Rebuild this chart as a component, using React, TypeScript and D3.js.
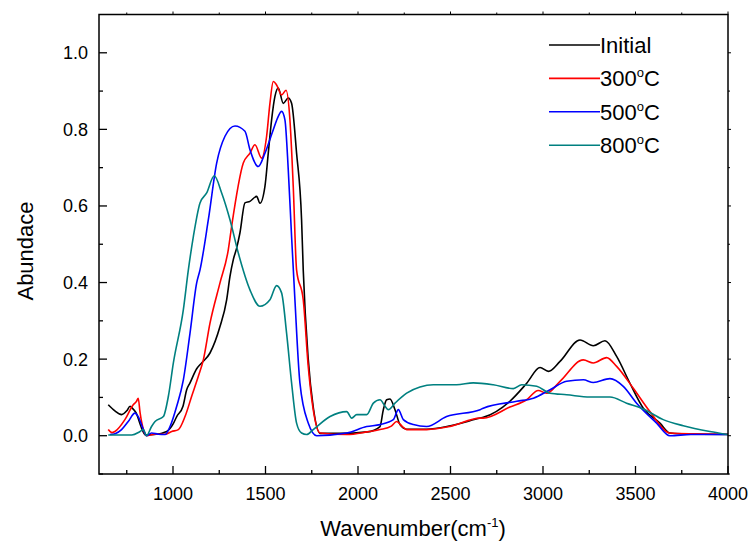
import React from "react";
import * as d3 from "d3";

const seriesNames = ["Initial", "300", "500", "800"];
const seriesColors = ["#000000", "#ff0000", "#0000ff", "#008080"];

const initialW = [650, 686, 722, 750, 768, 780, 800, 830, 850, 900, 966, 1000, 1020, 1054, 1074, 1092, 1128, 1155, 1200, 1254, 1290, 1308, 1326, 1344, 1362, 1389, 1416, 1452, 1470, 1497, 1515, 1533, 1551, 1569, 1596, 1623, 1641, 1668, 1695, 1704, 1731, 1758, 1795, 1900, 2050, 2119, 2137, 2155, 2173, 2200, 2227, 2263, 2371, 2500, 2660, 2677, 2821, 2912, 2984, 3029, 3092, 3200, 3272, 3335, 3398, 3470, 3542, 3632, 3686, 3757, 4000];
const initialV = [0.081, 0.065, 0.055, 0.065, 0.077, 0.072, 0.06, 0.02, 0.002, 0.003, 0.011, 0.03, 0.05, 0.077, 0.12, 0.138, 0.175, 0.19, 0.216, 0.285, 0.355, 0.416, 0.46, 0.49, 0.53, 0.608, 0.612, 0.625, 0.607, 0.651, 0.738, 0.825, 0.886, 0.908, 0.868, 0.882, 0.868, 0.738, 0.564, 0.433, 0.2, 0.075, 0.006, 0.006, 0.01, 0.024, 0.068, 0.094, 0.096, 0.068, 0.029, 0.017, 0.017, 0.026, 0.046, 0.048, 0.09, 0.137, 0.178, 0.168, 0.194, 0.25, 0.235, 0.248, 0.207, 0.137, 0.072, 0.033, 0.007, 0.005, 0.003];

const t300W = [650, 670, 686, 740, 785, 803, 812, 822, 840, 857, 900, 957, 993, 1029, 1065, 1101, 1137, 1164, 1200, 1254, 1299, 1317, 1380, 1416, 1443, 1479, 1506, 1524, 1542, 1560, 1587, 1611, 1632, 1650, 1668, 1704, 1731, 1758, 1795, 1939, 2050, 2119, 2180, 2209, 2240, 2263, 2371, 2497, 2660, 2677, 2821, 2912, 2974, 3020, 3092, 3218, 3272, 3344, 3398, 3488, 3578, 3686, 3800, 4000];
const t300V = [0.016, 0.008, 0.011, 0.042, 0.081, 0.09, 0.098, 0.06, 0.016, 0.0, 0.004, 0.004, 0.011, 0.016, 0.05, 0.103, 0.155, 0.198, 0.294, 0.399, 0.486, 0.547, 0.712, 0.738, 0.76, 0.725, 0.782, 0.868, 0.925, 0.916, 0.89, 0.902, 0.825, 0.651, 0.433, 0.355, 0.181, 0.068, 0.007, 0.003, 0.01, 0.016, 0.025, 0.037, 0.024, 0.016, 0.016, 0.024, 0.046, 0.046, 0.075, 0.094, 0.118, 0.111, 0.142, 0.198, 0.19, 0.204, 0.181, 0.124, 0.063, 0.007, 0.005, 0.004];

const t500W = [659, 690, 722, 758, 794, 812, 840, 857, 884, 920, 957, 984, 1020, 1056, 1092, 1128, 1146, 1191, 1236, 1281, 1335, 1389, 1416, 1461, 1497, 1542, 1569, 1587, 1605, 1623, 1641, 1659, 1686, 1731, 1777, 1939, 2047, 2119, 2191, 2218, 2245, 2299, 2371, 2479, 2660, 2677, 2858, 2948, 3038, 3128, 3218, 3272, 3362, 3434, 3506, 3614, 3686, 3800, 4000];
const t500V = [0.003, 0.006, 0.016, 0.037, 0.059, 0.05, 0.016, 0.0, 0.007, 0.004, 0.003, 0.024, 0.077, 0.146, 0.268, 0.399, 0.433, 0.564, 0.712, 0.782, 0.809, 0.795, 0.747, 0.703, 0.738, 0.799, 0.834, 0.847, 0.825, 0.695, 0.52, 0.355, 0.138, 0.033, 0.0, 0.007, 0.024, 0.029, 0.042, 0.068, 0.042, 0.029, 0.024, 0.05, 0.068, 0.072, 0.09, 0.098, 0.12, 0.142, 0.146, 0.139, 0.149, 0.129, 0.085, 0.033, 0.0, 0.003, 0.003];

const t800W = [650, 700, 777, 822, 840, 857, 884, 903, 948, 975, 1002, 1056, 1083, 1110, 1146, 1182, 1223, 1263, 1308, 1353, 1416, 1470, 1524, 1560, 1587, 1614, 1641, 1668, 1695, 1722, 1758, 1849, 1939, 1966, 1993, 2047, 2083, 2119, 2146, 2164, 2200, 2263, 2335, 2407, 2533, 2623, 2731, 2840, 2885, 2966, 3038, 3128, 3254, 3362, 3452, 3542, 3650, 3758, 3902, 4000];
const t800V = [0.002, 0.002, 0.002, 0.011, 0.016, 0.0, 0.024, 0.037, 0.05, 0.103, 0.19, 0.329, 0.433, 0.52, 0.608, 0.634, 0.679, 0.634, 0.564, 0.477, 0.381, 0.338, 0.355, 0.392, 0.373, 0.268, 0.138, 0.033, 0.007, 0.003, 0.016, 0.05, 0.063, 0.046, 0.055, 0.055, 0.085, 0.094, 0.077, 0.068, 0.085, 0.111, 0.127, 0.133, 0.133, 0.138, 0.133, 0.123, 0.133, 0.129, 0.111, 0.107, 0.101, 0.101, 0.085, 0.07, 0.042, 0.026, 0.011, 0.003];

const xMajor = [1000, 1500, 2000, 2500, 3000, 3500, 4000];
const xMinor = [750, 1250, 1750, 2250, 2750, 3250, 3750];
const yMajor = [0.0, 0.2, 0.4, 0.6, 0.8, 1.0];
const yMinor = [-0.1, 0.1, 0.3, 0.5, 0.7, 0.9];

const W = 752, H = 545;
const L = 99, R = 728, T = 14.5, B = 474;

export default function App() {
  const x = d3.scaleLinear().domain([600, 4000]).range([L, R]);
  const y = d3.scaleLinear().domain([-0.1, 1.1]).range([B, T]);
  const allW = [initialW, t300W, t500W, t800W];
  const allV = [initialV, t300V, t500V, t800V];
  const line = d3
    .line<[number, number]>()
    .x((d) => x(d[0]))
    .y((d) => y(d[1]))
    .curve(d3.curveMonotoneX);
  const font = "Liberation Sans, Arial, sans-serif";
  return (
    <svg width={W} height={H} style={{ position: "absolute", left: 0, top: 0 }} fontFamily={font}>
      <rect x={0} y={0} width={W} height={H} fill="#fff" />
      <defs>
        <clipPath id="clip">
          <rect x={L} y={T} width={R - L} height={B - T} />
        </clipPath>
      </defs>
      <g clipPath="url(#clip)">
        {allW.map((ws, i) => (
          <path
            key={i}
            d={line(ws.map((w, j) => [w, allV[i][j]] as [number, number])) || ""}
            fill="none"
            stroke={seriesColors[i]}
            strokeWidth={1.6}
            strokeLinejoin="round"
          />
        ))}
      </g>
      <rect x={L} y={T} width={R - L} height={B - T} fill="none" stroke="#000" strokeWidth={1.5} />
      {xMajor.map((t) => (
        <g key={"xm" + t}>
          <line x1={x(t)} x2={x(t)} y1={B} y2={B - 8} stroke="#000" strokeWidth={1.3} />
          <line x1={x(t)} x2={x(t)} y1={T} y2={T - 3} stroke="#000" strokeWidth={1} />
          <text x={x(t)} y={500} textAnchor="middle" fontSize={18}>
            {t}
          </text>
        </g>
      ))}
      {xMinor.map((t) => (
        <g key={"xn" + t}>
          <line x1={x(t)} x2={x(t)} y1={B} y2={B - 4} stroke="#000" strokeWidth={1.3} />
          <line x1={x(t)} x2={x(t)} y1={T} y2={T - 2} stroke="#000" strokeWidth={1} />
        </g>
      ))}
      {yMajor.map((t) => (
        <g key={"ym" + t}>
          <line x1={L} x2={L + 8} y1={y(t)} y2={y(t)} stroke="#000" strokeWidth={1.3} />
          <line x1={R} x2={R + 3} y1={y(t)} y2={y(t)} stroke="#000" strokeWidth={1} />
          <text x={88} y={y(t) + 6.5} textAnchor="end" fontSize={18}>
            {t.toFixed(1)}
          </text>
        </g>
      ))}
      {yMinor.map((t) => (
        <g key={"yn" + t}>
          <line x1={L} x2={L + 4} y1={y(t)} y2={y(t)} stroke="#000" strokeWidth={1.3} />
          <line x1={R} x2={R + 2} y1={y(t)} y2={y(t)} stroke="#000" strokeWidth={1} />
        </g>
      ))}
      <text transform={`translate(33, 251) rotate(-90)`} textAnchor="middle" fontSize={22}>
        Abundace
      </text>
      <text x={413} y={536} textAnchor="middle" fontSize={22}>
        Wavenumber(cm
        <tspan dy={-9} fontSize={13}>-1</tspan>
        <tspan dy={9}>)</tspan>
      </text>
      {seriesNames.map((n, i) => {
        const ly = 45 + i * 33.4;
        return (
          <g key={"lg" + i}>
            <line x1={549} x2={600} y1={ly} y2={ly} stroke={seriesColors[i]} strokeWidth={1.6} />
            <text x={600} y={ly + 8} fontSize={22}>
              {i === 0 ? (
                n
              ) : (
                <>
                  {n}
                  <tspan dy={-9} fontSize={13}>o</tspan>
                  <tspan dy={9}>C</tspan>
                </>
              )}
            </text>
          </g>
        );
      })}
    </svg>
  );
}
